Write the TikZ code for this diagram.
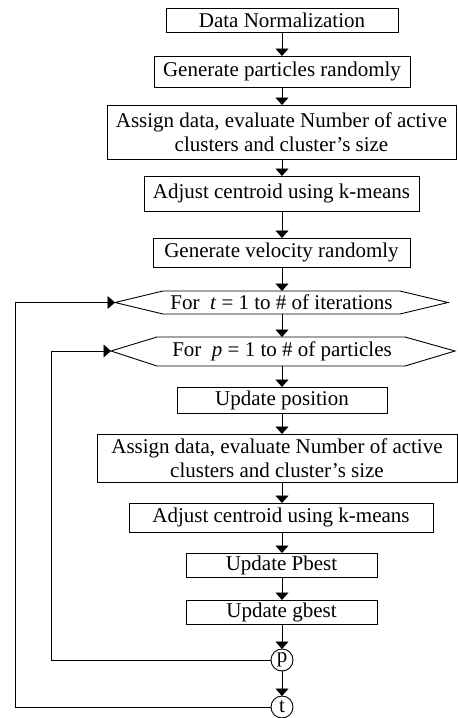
\documentclass[tikz,border=0pt]{standalone}
\usepackage{fontspec}
\setmainfont{Liberation Serif}
\usetikzlibrary{arrows.meta}
\begin{document}
\begin{tikzpicture}[x=1pt,y=-1pt,
  font=\fontsize{21}{24}\selectfont,
  every node/.style={inner sep=0pt, outer sep=0pt},
  stepbox/.style={draw, line width=0.9pt, rectangle, align=center},
  hexline/.style={draw, line width=0.9pt},
  loopnode/.style={draw, line width=0.9pt, circle, minimum size=22pt},
  arr/.style={line width=0.9pt, -{Triangle[width=13pt,length=7.5pt]}}]
\useasboundingbox (0,0) rectangle (458,718);
\coordinate (axis) at (282,0);
% boxes
\node[stepbox, minimum width=232pt, minimum height=24pt] (dn) at (282,20) {Data Normalization};
\node[stepbox, minimum width=256pt, minimum height=31pt] (gp) at (282,71.5) {Generate particles randomly};
\node[stepbox, minimum width=349pt, minimum height=54pt] (ad1) at (281.5,132) {Assign data, evaluate Number of active\\clusters and cluster’s size};
\node[stepbox, minimum width=275pt, minimum height=35pt] (ac1) at (281.5,193.5) {Adjust centroid using k-means};
\node[stepbox, minimum width=257pt, minimum height=29pt] (gv) at (281.5,252.5) {Generate velocity randomly};
% hexagon t
\node (fort) at (281.5,302.5) {For\ \ \textit{t} = 1 to \# of iterations};
\coordinate (tL) at (115,302.5);
\coordinate (tR) at (448,302.5);
\coordinate (tTop) at (282,291);
\coordinate (tBot) at (282,314);
\draw[hexline] (tL) -- (163,291) -- (400,291) -- (tR) -- (400,314) -- (163,314) -- cycle;
% hexagon p
\node (forp) at (282,351) {For\ \ \textit{p} = 1 to \# of particles};
\coordinate (pL) at (111,351);
\coordinate (pR) at (455,351);
\coordinate (pTop) at (282,337);
\coordinate (pBot) at (282,366);
\draw[hexline] (pL) -- (157,337) -- (405,337) -- (pR) -- (405,366) -- (157,366) -- cycle;
% inner boxes
\node[stepbox, minimum width=210pt, minimum height=26pt] (up) at (282,400) {Update position};
\node[stepbox, minimum width=360pt, minimum height=48pt] (ad2) at (277,458) {Assign data, evaluate Number of active\\clusters and cluster’s size};
\node[stepbox, minimum width=304pt, minimum height=29pt] (ac2) at (281,517.5) {Adjust centroid using k-means};
\node[stepbox, minimum width=191pt, minimum height=24pt] (upb) at (281.5,565) {Update Pbest};
\node[stepbox, minimum width=191pt, minimum height=24pt] (ug) at (281.5,612) {Update gbest};
\node[loopnode] (pc) at (282,660) {p};
\node[loopnode] (tc) at (282,707) {t};
% connectors
\draw[arr] (dn.south -| axis) -- (gp.north -| axis);
\draw[arr] (gp.south -| axis) -- (ad1.north -| axis);
\draw[arr] (ad1.south -| axis) -- (ac1.north -| axis);
\draw[arr] (ac1.south -| axis) -- (gv.north -| axis);
\draw[arr] (gv.south -| axis) -- (tTop);
\draw[arr] (tBot) -- (pTop);
\draw[arr] (pBot) -- (up.north -| axis);
\draw[arr] (up.south -| axis) -- (ad2.north -| axis);
\draw[arr] (ad2.south -| axis) -- (ac2.north -| axis);
\draw[arr] (ac2.south -| axis) -- (upb.north -| axis);
\draw[arr] (upb.south -| axis) -- (ug.north -| axis);
\draw[arr] (ug.south -| axis) -- (pc.north);
\draw[arr] (pc.south) -- (tc.north);
% feedback loops
\coordinate (pLoop) at (51,660);
\coordinate (tLoop) at (15,707);
\draw[arr] (pc.west) -- (pLoop) |- (pL);
\draw[arr] (tc.west) -- (tLoop) |- (tL);
\end{tikzpicture}
\end{document}
